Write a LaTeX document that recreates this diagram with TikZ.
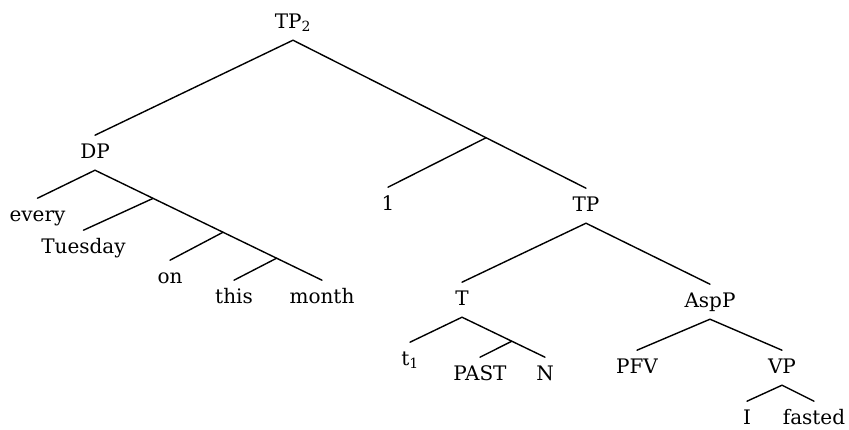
\documentclass[tikz,border=0pt]{standalone}
\usepackage{fontspec}
\setmainfont{DejaVu Serif}
\usetikzlibrary{calc}

\tikzset{
  lbl/.style={anchor=base, inner xsep=0pt, inner ysep=8pt,
    text height=14.6pt, text depth=4pt,
    font=\fontsize{20}{24}\selectfont},
  branch/.style={line width=1.4pt, line cap=round}
}

\begin{document}
\begin{tikzpicture}[x=1pt, y=-1pt]
  \useasboundingbox (0,0) rectangle (849,429);

  % labels
  \node[lbl] (tp2)     at (293,28)  {TP\textsubscript{2}};
  \node[lbl] (dp)      at (95,158)  {DP};
  \node[lbl] (every)   at (37.5,221) {every};
  \node[lbl] (tuesday) at (83.5,253) {Tuesday};
  \node[lbl] (on)      at (170,283) {on};
  \node[lbl] (this)    at (234,303) {this};
  \node[lbl] (month)   at (322,303) {month};
  \node[lbl] (one)     at (388,210) {1};
  \node[lbl] (tp)      at (586,211) {TP};
  \node[lbl] (t)       at (462,305) {T};
  \node[lbl] (asp)     at (710,307) {AspP};
  \node[lbl] (trace)   at (410,365) {t\textsubscript{1}};
  \node[lbl] (past)    at (480,380) {PAST};
  \node[lbl] (n)       at (545,380) {N};
  \node[lbl] (pfv)     at (637,373) {PFV};
  \node[lbl] (vp)      at (782,373) {VP};
  \node[lbl] (i)       at (747,424) {I};
  \node[lbl] (fasted)  at (814,424) {fasted};

  % branching points on the long right-hand edges
  \coordinate (b1) at ($(tp2.south)!0.659!(tp.north)$);
  \coordinate (d1) at ($(dp.south)!0.256!(month.north)$);
  \coordinate (d2) at ($(dp.south)!0.564!(month.north)$);
  \coordinate (d3) at ($(dp.south)!0.80!(month.north)$);
  \coordinate (t1) at ($(t.south)!0.60!(n.north)$);

  % edges
  \draw[branch] (dp.north) -- (tp2.south) -- (tp.north);
  \draw[branch] (b1) -- (one.north);

  \draw[branch] (every.north) -- (dp.south) -- (month.north);
  \draw[branch] (d1) -- (tuesday.north);
  \draw[branch] (d2) -- (on.north);
  \draw[branch] (d3) -- (this.north);

  \draw[branch] (t.north) -- (tp.south) -- (asp.north);

  \draw[branch] (trace.north) -- (t.south) -- (n.north);
  \draw[branch] (t1) -- (past.north);

  \draw[branch] (pfv.north) -- (asp.south) -- (vp.north);
  \draw[branch] (i.north) -- (vp.south) -- (fasted.north);
\end{tikzpicture}
\end{document}
